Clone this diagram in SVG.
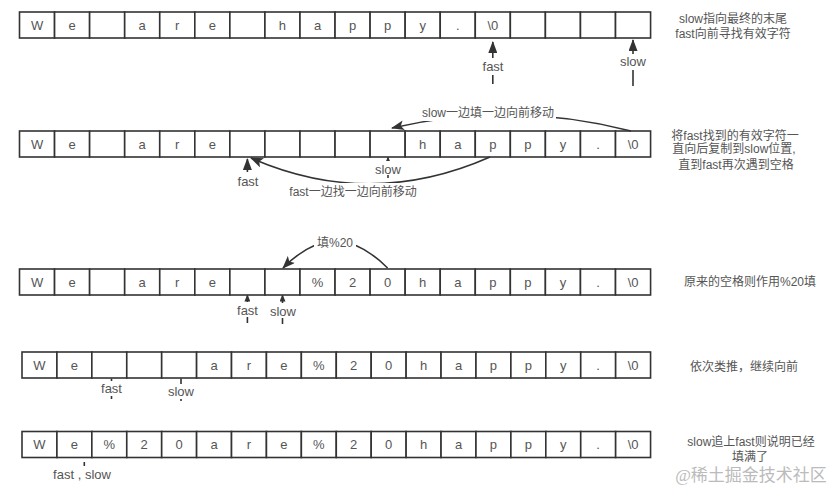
<svg xmlns="http://www.w3.org/2000/svg" width="837" height="497" viewBox="0 0 837 497">
<style>
.c{fill:#fff;stroke:#333;stroke-width:1.6}
.t{font-family:"Liberation Sans","Noto Sans CJK SC",sans-serif;font-size:13px;fill:#555;text-anchor:middle}
.n{font-family:"Liberation Sans","Noto Sans CJK SC",sans-serif;font-size:12px;fill:#555;text-anchor:middle}
.lb{fill:#fff}
.ln{fill:none;stroke:#333;stroke-width:1.6}
.wm{font-family:"Liberation Serif","Noto Sans CJK SC",serif;font-size:17px;fill:#bbb;text-anchor:middle}
</style>
<defs>
<marker id="big" markerUnits="userSpaceOnUse" markerWidth="12" markerHeight="9" refX="11" refY="4.5" orient="auto"><path d="M0,0 L12,4.5 L0,9 z" fill="#333"/></marker>
<marker id="crv" markerUnits="userSpaceOnUse" markerWidth="13" markerHeight="10" refX="12" refY="5" orient="auto"><path d="M0,0 L13,5 L0,10 L3,5 z" fill="#333"/></marker>
<marker id="sm" markerUnits="userSpaceOnUse" markerWidth="7" markerHeight="6" refX="6" refY="3" orient="auto"><path d="M0,0 L7,3 L0,6 z" fill="#333"/></marker>
</defs>
<rect width="837" height="497" fill="#fff"/>

<g id="row1">
<rect class="c" x="19.5" y="12" width="35.06" height="26"/><rect class="c" x="54.56" y="12" width="35.06" height="26"/><rect class="c" x="89.62" y="12" width="35.06" height="26"/><rect class="c" x="124.68" y="12" width="35.06" height="26"/><rect class="c" x="159.74" y="12" width="35.06" height="26"/><rect class="c" x="194.8" y="12" width="35.06" height="26"/><rect class="c" x="229.86" y="12" width="35.06" height="26"/><rect class="c" x="264.92" y="12" width="35.06" height="26"/><rect class="c" x="299.98" y="12" width="35.06" height="26"/><rect class="c" x="335.04" y="12" width="35.06" height="26"/><rect class="c" x="370.1" y="12" width="35.06" height="26"/><rect class="c" x="405.16" y="12" width="35.06" height="26"/><rect class="c" x="440.22" y="12" width="35.06" height="26"/><rect class="c" x="475.28" y="12" width="35.06" height="26"/><rect class="c" x="510.34" y="12" width="35.06" height="26"/><rect class="c" x="545.4" y="12" width="35.06" height="26"/><rect class="c" x="580.46" y="12" width="35.06" height="26"/><rect class="c" x="615.52" y="12" width="35.06" height="26"/>
<text class="t" y="29.5"><tspan x="37.03">W</tspan><tspan x="72.09">e</tspan><tspan x="142.21">a</tspan><tspan x="177.27">r</tspan><tspan x="212.33">e</tspan><tspan x="282.45">h</tspan><tspan x="317.51">a</tspan><tspan x="352.57">p</tspan><tspan x="387.63">p</tspan><tspan x="422.69">y</tspan><tspan x="457.75">.</tspan><tspan x="492.81">\0</tspan></text>
</g>

<g id="row2">
<rect class="c" x="19.5" y="131" width="35.06" height="26"/><rect class="c" x="54.56" y="131" width="35.06" height="26"/><rect class="c" x="89.62" y="131" width="35.06" height="26"/><rect class="c" x="124.68" y="131" width="35.06" height="26"/><rect class="c" x="159.74" y="131" width="35.06" height="26"/><rect class="c" x="194.8" y="131" width="35.06" height="26"/><rect class="c" x="229.86" y="131" width="35.06" height="26"/><rect class="c" x="264.92" y="131" width="35.06" height="26"/><rect class="c" x="299.98" y="131" width="35.06" height="26"/><rect class="c" x="335.04" y="131" width="35.06" height="26"/><rect class="c" x="370.1" y="131" width="35.06" height="26"/><rect class="c" x="405.16" y="131" width="35.06" height="26"/><rect class="c" x="440.22" y="131" width="35.06" height="26"/><rect class="c" x="475.28" y="131" width="35.06" height="26"/><rect class="c" x="510.34" y="131" width="35.06" height="26"/><rect class="c" x="545.4" y="131" width="35.06" height="26"/><rect class="c" x="580.46" y="131" width="35.06" height="26"/><rect class="c" x="615.52" y="131" width="35.06" height="26"/>
<text class="t" y="148.5"><tspan x="37.03">W</tspan><tspan x="72.09">e</tspan><tspan x="142.21">a</tspan><tspan x="177.27">r</tspan><tspan x="212.33">e</tspan><tspan x="422.69">h</tspan><tspan x="457.75">a</tspan><tspan x="492.81">p</tspan><tspan x="527.87">p</tspan><tspan x="562.93">y</tspan><tspan x="597.99">.</tspan><tspan x="633.05">\0</tspan></text>
</g>

<g id="row3">
<rect class="c" x="19.5" y="269" width="35.06" height="26"/><rect class="c" x="54.56" y="269" width="35.06" height="26"/><rect class="c" x="89.62" y="269" width="35.06" height="26"/><rect class="c" x="124.68" y="269" width="35.06" height="26"/><rect class="c" x="159.74" y="269" width="35.06" height="26"/><rect class="c" x="194.8" y="269" width="35.06" height="26"/><rect class="c" x="229.86" y="269" width="35.06" height="26"/><rect class="c" x="264.92" y="269" width="35.06" height="26"/><rect class="c" x="299.98" y="269" width="35.06" height="26"/><rect class="c" x="335.04" y="269" width="35.06" height="26"/><rect class="c" x="370.1" y="269" width="35.06" height="26"/><rect class="c" x="405.16" y="269" width="35.06" height="26"/><rect class="c" x="440.22" y="269" width="35.06" height="26"/><rect class="c" x="475.28" y="269" width="35.06" height="26"/><rect class="c" x="510.34" y="269" width="35.06" height="26"/><rect class="c" x="545.4" y="269" width="35.06" height="26"/><rect class="c" x="580.46" y="269" width="35.06" height="26"/><rect class="c" x="615.52" y="269" width="35.06" height="26"/>
<text class="t" y="286.5"><tspan x="37.03">W</tspan><tspan x="72.09">e</tspan><tspan x="142.21">a</tspan><tspan x="177.27">r</tspan><tspan x="212.33">e</tspan><tspan x="317.51">%</tspan><tspan x="352.57">2</tspan><tspan x="387.63">0</tspan><tspan x="422.69">h</tspan><tspan x="457.75">a</tspan><tspan x="492.81">p</tspan><tspan x="527.87">p</tspan><tspan x="562.93">y</tspan><tspan x="597.99">.</tspan><tspan x="633.05">\0</tspan></text>
</g>

<g id="row4">
<rect class="c" x="22" y="352" width="34.92" height="26"/><rect class="c" x="56.92" y="352" width="34.92" height="26"/><rect class="c" x="91.84" y="352" width="34.92" height="26"/><rect class="c" x="126.76" y="352" width="34.92" height="26"/><rect class="c" x="161.68" y="352" width="34.92" height="26"/><rect class="c" x="196.6" y="352" width="34.92" height="26"/><rect class="c" x="231.52" y="352" width="34.92" height="26"/><rect class="c" x="266.44" y="352" width="34.92" height="26"/><rect class="c" x="301.36" y="352" width="34.92" height="26"/><rect class="c" x="336.28" y="352" width="34.92" height="26"/><rect class="c" x="371.2" y="352" width="34.92" height="26"/><rect class="c" x="406.12" y="352" width="34.92" height="26"/><rect class="c" x="441.04" y="352" width="34.92" height="26"/><rect class="c" x="475.96" y="352" width="34.92" height="26"/><rect class="c" x="510.88" y="352" width="34.92" height="26"/><rect class="c" x="545.8" y="352" width="34.92" height="26"/><rect class="c" x="580.72" y="352" width="34.92" height="26"/><rect class="c" x="615.64" y="352" width="34.92" height="26"/>
<text class="t" y="369.5"><tspan x="39.46">W</tspan><tspan x="74.38">e</tspan><tspan x="214.06">a</tspan><tspan x="248.98">r</tspan><tspan x="283.9">e</tspan><tspan x="318.82">%</tspan><tspan x="353.74">2</tspan><tspan x="388.66">0</tspan><tspan x="423.58">h</tspan><tspan x="458.5">a</tspan><tspan x="493.42">p</tspan><tspan x="528.34">p</tspan><tspan x="563.26">y</tspan><tspan x="598.18">.</tspan><tspan x="633.1">\0</tspan></text>
</g>

<g id="row5">
<rect class="c" x="22" y="431.5" width="34.92" height="26"/><rect class="c" x="56.92" y="431.5" width="34.92" height="26"/><rect class="c" x="91.84" y="431.5" width="34.92" height="26"/><rect class="c" x="126.76" y="431.5" width="34.92" height="26"/><rect class="c" x="161.68" y="431.5" width="34.92" height="26"/><rect class="c" x="196.6" y="431.5" width="34.92" height="26"/><rect class="c" x="231.52" y="431.5" width="34.92" height="26"/><rect class="c" x="266.44" y="431.5" width="34.92" height="26"/><rect class="c" x="301.36" y="431.5" width="34.92" height="26"/><rect class="c" x="336.28" y="431.5" width="34.92" height="26"/><rect class="c" x="371.2" y="431.5" width="34.92" height="26"/><rect class="c" x="406.12" y="431.5" width="34.92" height="26"/><rect class="c" x="441.04" y="431.5" width="34.92" height="26"/><rect class="c" x="475.96" y="431.5" width="34.92" height="26"/><rect class="c" x="510.88" y="431.5" width="34.92" height="26"/><rect class="c" x="545.8" y="431.5" width="34.92" height="26"/><rect class="c" x="580.72" y="431.5" width="34.92" height="26"/><rect class="c" x="615.64" y="431.5" width="34.92" height="26"/>
<text class="t" y="449"><tspan x="39.46">W</tspan><tspan x="74.38">e</tspan><tspan x="109.3">%</tspan><tspan x="144.22">2</tspan><tspan x="179.14">0</tspan><tspan x="214.06">a</tspan><tspan x="248.98">r</tspan><tspan x="283.9">e</tspan><tspan x="318.82">%</tspan><tspan x="353.74">2</tspan><tspan x="388.66">0</tspan><tspan x="423.58">h</tspan><tspan x="458.5">a</tspan><tspan x="493.42">p</tspan><tspan x="528.34">p</tspan><tspan x="563.26">y</tspan><tspan x="598.18">.</tspan><tspan x="633.1">\0</tspan></text>
</g>

<g id="connectors">
<path class="ln" d="M492.8,84 L492.8,42" marker-end="url(#big)"/>
<path class="ln" d="M633,86 L633,40" marker-end="url(#big)"/>
<path class="ln" d="M631,131 Q511,100 392,128" marker-end="url(#crv)"/>
<path class="ln" d="M490,157 Q370,210 251,158" marker-end="url(#crv)"/>
<path class="ln" d="M247.4,172 L247.4,159" marker-end="url(#big)"/>
<path class="ln" d="M388,178 L388,157.5" stroke-width="1" marker-end="url(#sm)"/>
<path class="ln" d="M387.6,268 Q335,215 283,268" marker-end="url(#crv)"/>
<path class="ln" d="M247.4,323 L247.4,295.5" stroke-width="1" marker-end="url(#sm)"/>
<path class="ln" d="M282.5,324 L282.5,295.5" stroke-width="1" marker-end="url(#sm)"/>
<path class="ln" d="M111.5,399 L111.5,378.5" stroke-width="1"/>
<path class="ln" d="M181,401 L181,378.5" stroke-width="1"/>
<path class="ln" d="M84.3,466 L84.3,462" stroke-width="1"/>
</g>

<g id="labels">
<rect class="lb" x="480" y="58" width="26" height="17"/><text class="t" x="493" y="71">fast</text>
<rect class="lb" x="619" y="54" width="28" height="16"/><text class="t" x="633" y="66">slow</text>
<rect class="lb" x="420" y="104" width="136" height="17"/><text class="n" x="488" y="117">slow一边填一边向前移动</text>
<rect class="lb" x="287" y="183" width="132" height="17"/><text class="n" x="353" y="196">fast一边找一边向前移动</text>
<text class="t" x="248" y="186">fast</text>
<rect class="lb" x="375" y="161" width="27" height="14"/><text class="t" x="388" y="173.5">slow</text>
<rect class="lb" x="314" y="234" width="42" height="16"/><text class="n" x="335" y="247">填%20</text>
<rect class="lb" x="235" y="302" width="25" height="15"/><text class="t" x="247.5" y="314.5">fast</text>
<rect class="lb" x="269" y="303" width="28" height="15"/><text class="t" x="283" y="315.5">slow</text>
<rect class="lb" x="99" y="381" width="25" height="15"/><text class="t" x="111.5" y="392.5">fast</text>
<rect class="lb" x="167" y="384" width="28" height="15"/><text class="t" x="181" y="395.5">slow</text>
<text class="t" x="82" y="479">fast , slow</text>
</g>

<g id="notes">
<text class="n" x="733" y="23">slow指向最终的末尾</text>
<text class="n" x="733" y="37.5">fast向前寻找有效字符</text>
<text class="n" x="735" y="139.5">将fast找到的有效字符一</text>
<text class="n" x="734" y="153">直向后复制到slow位置,</text>
<text class="n" x="736" y="169">直到fast再次遇到空格</text>
<text class="n" x="750" y="286">原来的空格则作用%20填</text>
<text class="n" x="744" y="371">依次类推，继续向前</text>
<text class="n" x="751" y="446">slow追上fast则说明已经</text>
<text class="n" x="750" y="461">填满了</text>
<text class="wm" x="751" y="481">@稀土掘金技术社区</text>
</g>
</svg>
